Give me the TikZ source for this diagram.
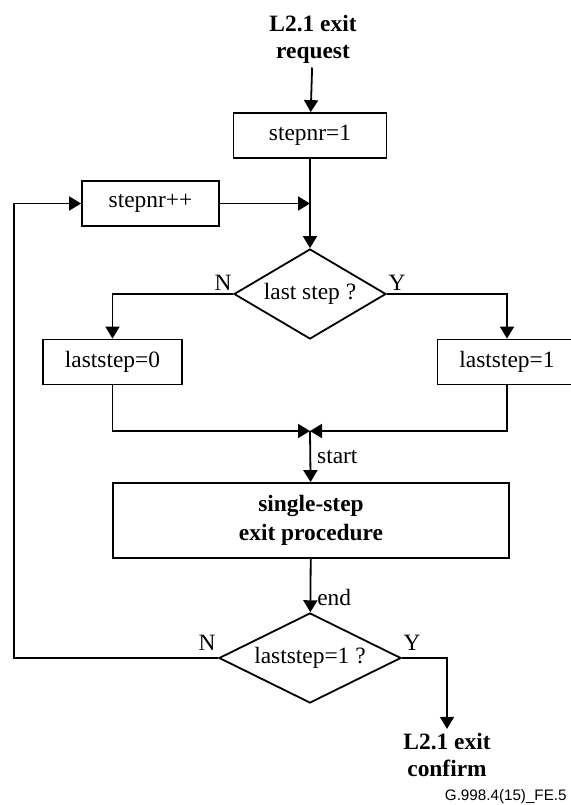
\documentclass[tikz,border=0pt]{standalone}
\usepackage{fontspec}
\setmainfont{Liberation Serif}
\newfontfamily\footfont{Liberation Sans}
\usetikzlibrary{arrows.meta,shapes.geometric}

\tikzset{
  box/.style={draw, line width=0.9pt, minimum width=#1, minimum height=22.5pt, inner sep=0pt},
  decision/.style={draw, diamond, line width=0.9pt, inner sep=0pt},
  flow/.style={line width=0.9pt, -{Triangle[length=6pt,width=7pt]}},
  endpoint/.style={align=center, font=\bfseries\fontsize{11.7}{13.5}\selectfont, inner sep=2pt},
  branch/.style={inner sep=0pt}
}

\begin{document}
\begin{tikzpicture}[x=0.5pt,y=-0.5pt,font=\fontsize{11.7}{14}\selectfont]
   \useasboundingbox (0,0) rectangle (571,805);

   % start of the exit
   \node[endpoint] (req) at (313,39) {L2.1 exit\\request};
   \node[box=76.5pt] (init) at (310,135.5) {stepnr=1};
   \node[box=68.5pt] (incr) at (150.5,203.5) {stepnr++};
   \coordinate (join1) at (310,203.5);

   % first decision
   \node[decision, aspect=1.7, minimum width=76pt, minimum height=45pt] (last) at (310,294) {last step ?};
   \node[box=69.5pt] (lszero) at (112.5,362) {laststep=0};
   \node[box=69.5pt] (lsone) at (507,362) {laststep=1};
   \node[branch] (nlast) at (223,283) {N};
   \node[branch] (ylast) at (397,283) {Y};
   \coordinate (join2) at (310,431);

   % procedure
   \node[box=198pt, minimum height=37.5pt, align=center, font=\bfseries\fontsize{11.7}{14.5}\selectfont] (proc) at (311,520.5) {single-step\\exit procedure};

   % second decision
   \node[decision, aspect=2, minimum width=91pt, minimum height=45pt] (check) at (310,658) {laststep=1 ?};
   \node[branch] (ncheck) at (207,643) {N};
   \node[branch] (ycheck) at (412,643) {Y};
   \coordinate (back) at (14,658);
   \node[endpoint] (conf) at (447,755) {L2.1 exit\\confirm};

   \node[anchor=east, inner sep=0pt, font=\footfont\fontsize{7.6}{9}\selectfont] (figid) at (567,797) {G.998.4(15)\_FE.5};

   \draw[flow] (req) -- (init);
   \draw[flow] (init) -- (last);
   \draw[flow] (incr) -- (join1);
   \draw[flow] (last.west) -| (lszero);
   \draw[flow] (last.east) -| (lsone);
   \draw[flow] (lszero) |- (join2);
   \draw[flow] (lsone) |- (join2);
   \draw[flow] (join2) -- (proc) node[midway, right, inner sep=3pt] {start};
   \draw[flow] (proc) -- (check) node[pos=0.72, right, inner sep=3pt] {end};
   \draw[flow] (check.east) -| (conf);
   \draw[flow] (check.west) -- (back) |- (incr);
\end{tikzpicture}
\end{document}
